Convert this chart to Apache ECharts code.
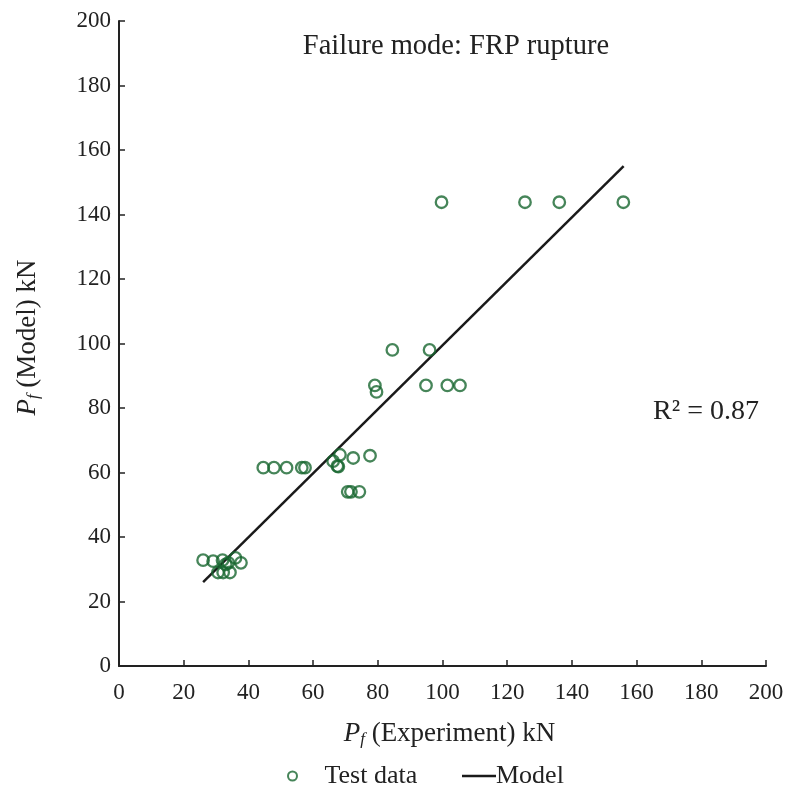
<!DOCTYPE html>
<html>
<head>
<meta charset="utf-8">
<script src="https://cdn.jsdelivr.net/npm/echarts@6/dist/echarts.min.js"></script>
<style>html,body{margin:0;padding:0;background:#fff}#c{width:787px;height:791px}</style>
</head>
<body>
<div id="c"></div>
<script>
// Test data: experiment (x) vs model (y), kN
var expX   = [26.0, 29.1, 30.6, 32.2, 34.3, 32.0, 33.0, 33.8, 36.0, 37.7,
              44.6, 47.9, 51.8, 56.5, 57.5, 66.2, 68.3, 67.5, 67.8, 72.4, 77.6, 70.7, 71.7, 74.3,
              84.5, 96.0, 79.1, 79.6, 94.9, 101.5, 105.4,
              99.7, 125.5, 136.1, 155.9];
var modelY = [32.8, 32.5, 29.0, 29.0, 29.0, 32.8, 31.5, 32.0, 33.5, 32.0,
              61.5, 61.5, 61.5, 61.5, 61.5, 63.5, 65.5, 62.0, 61.8, 64.5, 65.2, 54.0, 54.0, 54.0,
              98.0, 98.0, 87.0, 85.0, 87.0, 87.0, 87.0,
              143.8, 143.8, 143.8, 143.8];
// Model line end points
var lineX = [26, 156];
var lineY = [26, 155];
var xTicks = [0, 20, 40, 60, 80, 100, 120, 140, 160, 180, 200];
var yTicks = [0, 20, 40, 60, 80, 100, 120, 140, 160, 180, 200];

var green = '#186630';
var font = 'Liberation Serif';
var txt = '#222';

var scatterData = expX.map(function (x, i) { return [x, modelY[i]]; });
var lineData = lineX.map(function (x, i) { return [x, lineY[i]]; });

var nameRich = {
  i: { fontFamily: font, fontSize: 27, fontStyle: 'italic', color: txt },
  sub: { fontFamily: font, fontSize: 17, fontStyle: 'italic', color: txt, padding: [12, 0, 0, 0] }
};

var chart = echarts.init(document.getElementById('c'));
chart.setOption({
  animation: false,
  backgroundColor: '#fff',
  textStyle: { fontFamily: font, color: txt },
  grid: { left: 119, right: 21, top: 21, bottom: 125 },
  title: [
    { text: 'Failure mode: FRP rupture', left: 451, top: 27, textAlign: 'center',
      textStyle: { fontFamily: font, fontSize: 28.5, fontWeight: 'normal', color: txt } },
    { text: 'R² = 0.87', left: 701, top: 393, textAlign: 'center',
      textStyle: { fontFamily: font, fontSize: 28, fontWeight: 'normal', color: txt } }
  ],
  xAxis: {
    type: 'value', min: xTicks[0], max: xTicks[xTicks.length - 1], interval: xTicks[1] - xTicks[0],
    splitLine: { show: false },
    axisLine: { lineStyle: { color: '#222', width: 2 } },
    axisTick: { inside: true, length: 6, lineStyle: { color: '#222', width: 1.5 } },
    axisLabel: { fontFamily: font, fontSize: 23, color: txt, margin: 15 },
    name: '{i|P}{sub|f} (Experiment) kN', nameLocation: 'middle', nameGap: 53,
    nameTextStyle: { fontFamily: font, fontSize: 27, color: txt, padding: [0, 0, 0, 14], rich: nameRich }
  },
  yAxis: {
    type: 'value', min: yTicks[0], max: yTicks[yTicks.length - 1], interval: yTicks[1] - yTicks[0],
    splitLine: { show: false },
    axisLine: { show: true, lineStyle: { color: '#222', width: 2 } },
    axisTick: { show: true, inside: true, length: 6, lineStyle: { color: '#222', width: 1.5 } },
    axisLabel: { fontFamily: font, fontSize: 23, color: txt, margin: 8 },
    name: '{i|P}{sub|f} (Model) kN', nameLocation: 'middle', nameGap: 77,
    nameTextStyle: { fontFamily: font, fontSize: 27, color: txt, padding: [0, 0, 0, 12], rich: nameRich }
  },
  legend: [
    { data: [{ name: 'Test data', icon: 'circle' }], left: 282, bottom: -3, itemWidth: 48, itemHeight: 9, itemGap: 0,
      textStyle: { fontFamily: font, fontSize: 26, color: txt, padding: [0, 0, 0, 3] } },
    { data: [{ name: 'Model', icon: 'rect' }], left: 457, bottom: -3, itemWidth: 34, itemHeight: 2.5, itemGap: 0,
      textStyle: { fontFamily: font, fontSize: 26, color: txt, padding: [0, 0, 0, -5] } }
  ],
  series: [
    { name: 'Test data', type: 'scatter', data: scatterData, symbol: 'circle', symbolSize: 11.5,
      itemStyle: { color: 'rgba(255,255,255,0)', borderColor: green, borderWidth: 2.3 }, z: 3 },
    { name: 'Model', type: 'line', data: lineData, showSymbol: false, symbol: 'none',
      lineStyle: { color: '#1a1a1a', width: 2.5 }, itemStyle: { color: '#1a1a1a' }, z: 2 }
  ]
});
</script>
</body>
</html>
